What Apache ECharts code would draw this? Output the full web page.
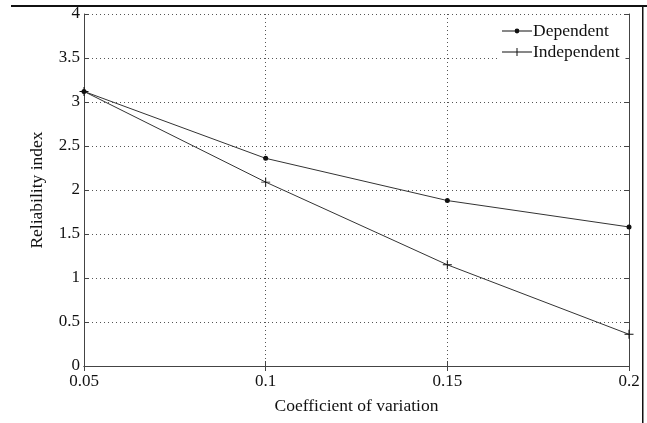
<!DOCTYPE html>
<html>
<head>
<meta charset="utf-8">
<script src="https://cdn.jsdelivr.net/npm/echarts@6/dist/echarts.min.js"></script>
<style>
  html, body { margin: 0; padding: 0; background: #fff; }
  #chart { width: 647px; height: 423px; }
</style>
</head>
<body>
<div id="chart"></div>
<script>
// values
const cov = [0.05, 0.1, 0.15, 0.2];
const dependent = [3.12, 2.36, 1.88, 1.58];
const independent = [3.12, 2.09, 1.15, 0.36];

const font = 'Liberation Serif';
const axisColor = '#444';

const chart = echarts.init(document.getElementById('chart'));

const plusIcon = 'path://M0,4.5 H9 V5.5 H0 Z M4,0 H5 V10 H4 Z';
// circle drawn with same winding as the line so it stays filled
const legendDot = 'path://M0,4.6 H30 V5.4 H0 Z M12.6,5 a2.4,2.4 0 1,1 4.8,0 a2.4,2.4 0 1,1 -4.8,0 Z';
const legendPlus = 'path://M0,4.6 H30 V5.4 H0 Z M14.5,1 H15.5 V9 H14.5 Z';

const hiddenLabels = { show: false };

chart.setOption({
  animation: false,
  grid: { left: 84, top: 14, width: 545, height: 352 },
  legend: {
    orient: 'vertical',
    left: 498,
    top: 20,
    itemWidth: 30,
    itemHeight: 10,
    itemGap: 3,
    padding: [2, 6, 2, 4],
    backgroundColor: '#fff',
    textStyle: { fontFamily: font, fontSize: 17.5, lineHeight: 18, color: '#111', padding: [0, 0, 0, -4] },
    data: [
      { name: 'Dependent', icon: legendDot },
      { name: 'Independent', icon: legendPlus }
    ]
  },
  xAxis: [
    {
      type: 'value', min: 0.05, max: 0.2, interval: 0.05,
      name: 'Coefficient of variation', nameLocation: 'middle', nameGap: 31,
      nameTextStyle: { fontFamily: font, fontSize: 17.5, color: '#111' },
      axisLine: { lineStyle: { color: axisColor, width: 1 } },
      axisTick: { inside: true, length: 5, lineStyle: { color: axisColor } },
      axisLabel: { fontFamily: font, fontSize: 17, color: '#111', margin: 7 },
      splitLine: { show: true, lineStyle: { color: '#555', type: [1, 3], width: 1 } }
    },
    {
      type: 'value', position: 'top', min: 0.05, max: 0.2, interval: 0.05,
      axisLine: { show: true, lineStyle: { color: axisColor } },
      axisTick: { inside: true, length: 5, lineStyle: { color: axisColor } },
      axisLabel: hiddenLabels, splitLine: { show: false }
    }
  ],
  yAxis: [
    {
      type: 'value', min: 0, max: 4, interval: 0.5,
      name: 'Reliability index', nameLocation: 'middle', nameGap: 38,
      nameTextStyle: { fontFamily: font, fontSize: 17.5, color: '#111' },
      axisLine: { show: true, lineStyle: { color: axisColor, width: 1 } },
      axisTick: { show: true, inside: true, length: 5, lineStyle: { color: axisColor } },
      axisLabel: { fontFamily: font, fontSize: 17, color: '#111', margin: 4 },
      splitLine: { show: true, lineStyle: { color: '#555', type: [1, 3], width: 1 } }
    },
    {
      type: 'value', position: 'right', min: 0, max: 4, interval: 0.5,
      axisLine: { show: true, lineStyle: { color: axisColor } },
      axisTick: { show: true, inside: true, length: 5, lineStyle: { color: axisColor } },
      axisLabel: hiddenLabels, splitLine: { show: false }
    }
  ],
  graphic: [
    { type: 'rect', shape: { x: 11, y: 5, width: 636, height: 2 }, style: { fill: '#111' }, silent: true },
    { type: 'rect', shape: { x: 642, y: 5, width: 1.5, height: 418 }, style: { fill: '#111' }, silent: true }
  ],
  series: [
    {
      name: 'Dependent', type: 'line',
      data: cov.map((x, i) => [x, dependent[i]]),
      symbol: 'circle', symbolSize: 5, showSymbol: true,
      lineStyle: { color: '#333', width: 1 },
      itemStyle: { color: '#111' }
    },
    {
      name: 'Independent', type: 'line',
      data: cov.map((x, i) => [x, independent[i]]),
      symbol: plusIcon, symbolSize: 9, showSymbol: true,
      lineStyle: { color: '#333', width: 1 },
      itemStyle: { color: '#111' }
    }
  ]
});
</script>
</body>
</html>
